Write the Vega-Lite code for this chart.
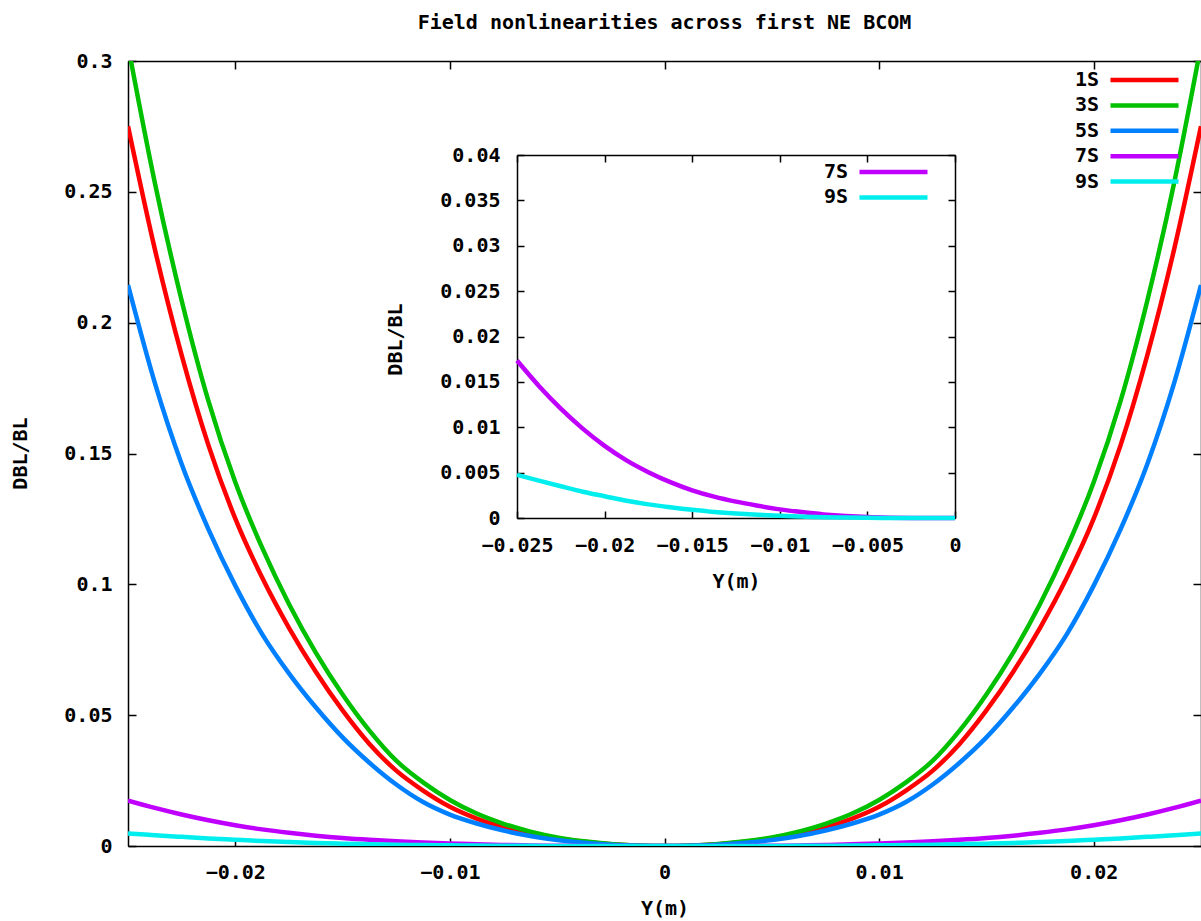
{
"$schema": "https://vega.github.io/schema/vega-lite/v6.json",
"width": 1073, "height": 785,
"autosize": {"type": "none"},
"padding": {"left": 128, "top": 61, "right": 0, "bottom": 75},
"background": "white",
"title": {"text": "Field nonlinearities across first NE BCOM", "font": "DejaVu Sans Mono", "fontSize": 20, "fontWeight": "bold", "color": "black", "frame": "group", "anchor": "middle", "offset": 12},
"config": {
 "view": {"stroke": null},
 "axis": {"labelFont": "DejaVu Sans Mono", "labelFontSize": 20, "labelFontWeight": "bold", "labelColor": "black", "titleFont": "DejaVu Sans Mono", "titleFontSize": 20, "titleFontWeight": "bold", "titleColor": "black", "domainColor": "black", "domainWidth": 1.5, "tickColor": "black", "tickWidth": 1.5, "grid": false, "labelFlush": false, "labelOverlap": false},
 "legend": {"title": null, "symbolType": "M-4,0H4", "symbolSize": 289, "symbolStrokeWidth": 4.5, "labelAlign": "right", "labelOffset": -56.5, "rowPadding": 4.4, "labelFont": "DejaVu Sans Mono", "labelFontSize": 20, "labelFontWeight": "bold", "labelColor": "black", "padding": 0}
},
"data": {"values": [
{"pos":-0.025,"series":"1S","dbl":0.2751},{"pos":-0.02375,"series":"1S","dbl":0.2281},{"pos":-0.0225,"series":"1S","dbl":0.1876},{"pos":-0.02125,"series":"1S","dbl":0.1531},{"pos":-0.02,"series":"1S","dbl":0.1251},{"pos":-0.01875,"series":"1S","dbl":0.1026},{"pos":-0.0175,"series":"1S","dbl":0.0834},{"pos":-0.01625,"series":"1S","dbl":0.0666},{"pos":-0.015,"series":"1S","dbl":0.0518},{"pos":-0.01375,"series":"1S","dbl":0.039},{"pos":-0.0125,"series":"1S","dbl":0.0288},{"pos":-0.01125,"series":"1S","dbl":0.0212},{"pos":-0.01,"series":"1S","dbl":0.015},{"pos":-0.00875,"series":"1S","dbl":0.0105},{"pos":-0.0075,"series":"1S","dbl":0.0072},{"pos":-0.00625,"series":"1S","dbl":0.0048},{"pos":-0.005,"series":"1S","dbl":0.003},{"pos":-0.00375,"series":"1S","dbl":0.0016},{"pos":-0.0025,"series":"1S","dbl":0.0007},{"pos":-0.00125,"series":"1S","dbl":0.0002},{"pos":0,"series":"1S","dbl":0},{"pos":0.00125,"series":"1S","dbl":0.0002},{"pos":0.0025,"series":"1S","dbl":0.0007},{"pos":0.00375,"series":"1S","dbl":0.0016},{"pos":0.005,"series":"1S","dbl":0.003},{"pos":0.00625,"series":"1S","dbl":0.0048},{"pos":0.0075,"series":"1S","dbl":0.0072},{"pos":0.00875,"series":"1S","dbl":0.0105},{"pos":0.01,"series":"1S","dbl":0.015},{"pos":0.01125,"series":"1S","dbl":0.0212},{"pos":0.0125,"series":"1S","dbl":0.0288},{"pos":0.01375,"series":"1S","dbl":0.039},{"pos":0.015,"series":"1S","dbl":0.0518},{"pos":0.01625,"series":"1S","dbl":0.0666},{"pos":0.0175,"series":"1S","dbl":0.0834},{"pos":0.01875,"series":"1S","dbl":0.1026},{"pos":0.02,"series":"1S","dbl":0.1251},{"pos":0.02125,"series":"1S","dbl":0.1531},{"pos":0.0225,"series":"1S","dbl":0.1876},{"pos":0.02375,"series":"1S","dbl":0.2281},{"pos":0.025,"series":"1S","dbl":0.2751},
{"pos":-0.025,"series":"3S","dbl":0.306},{"pos":-0.02375,"series":"3S","dbl":0.2535},{"pos":-0.0225,"series":"3S","dbl":0.2085},{"pos":-0.02125,"series":"3S","dbl":0.17},{"pos":-0.02,"series":"3S","dbl":0.139},{"pos":-0.01875,"series":"3S","dbl":0.114},{"pos":-0.0175,"series":"3S","dbl":0.0925},{"pos":-0.01625,"series":"3S","dbl":0.0739},{"pos":-0.015,"series":"3S","dbl":0.0579},{"pos":-0.01375,"series":"3S","dbl":0.0441},{"pos":-0.0125,"series":"3S","dbl":0.0326},{"pos":-0.01125,"series":"3S","dbl":0.0243},{"pos":-0.01,"series":"3S","dbl":0.0176},{"pos":-0.00875,"series":"3S","dbl":0.0124},{"pos":-0.0075,"series":"3S","dbl":0.0085},{"pos":-0.00625,"series":"3S","dbl":0.0055},{"pos":-0.005,"series":"3S","dbl":0.0033},{"pos":-0.00375,"series":"3S","dbl":0.0018},{"pos":-0.0025,"series":"3S","dbl":0.00075},{"pos":-0.00125,"series":"3S","dbl":0.0002},{"pos":0,"series":"3S","dbl":0},{"pos":0.00125,"series":"3S","dbl":0.0002},{"pos":0.0025,"series":"3S","dbl":0.00075},{"pos":0.00375,"series":"3S","dbl":0.0018},{"pos":0.005,"series":"3S","dbl":0.0033},{"pos":0.00625,"series":"3S","dbl":0.0055},{"pos":0.0075,"series":"3S","dbl":0.0085},{"pos":0.00875,"series":"3S","dbl":0.0124},{"pos":0.01,"series":"3S","dbl":0.0176},{"pos":0.01125,"series":"3S","dbl":0.0243},{"pos":0.0125,"series":"3S","dbl":0.0326},{"pos":0.01375,"series":"3S","dbl":0.0441},{"pos":0.015,"series":"3S","dbl":0.0579},{"pos":0.01625,"series":"3S","dbl":0.0739},{"pos":0.0175,"series":"3S","dbl":0.0925},{"pos":0.01875,"series":"3S","dbl":0.114},{"pos":0.02,"series":"3S","dbl":0.139},{"pos":0.02125,"series":"3S","dbl":0.17},{"pos":0.0225,"series":"3S","dbl":0.2085},{"pos":0.02375,"series":"3S","dbl":0.2535},{"pos":0.025,"series":"3S","dbl":0.306},
{"pos":-0.025,"series":"5S","dbl":0.2144},{"pos":-0.02375,"series":"5S","dbl":0.177},{"pos":-0.0225,"series":"5S","dbl":0.146},{"pos":-0.02125,"series":"5S","dbl":0.121},{"pos":-0.02,"series":"5S","dbl":0.0995},{"pos":-0.01875,"series":"5S","dbl":0.081},{"pos":-0.0175,"series":"5S","dbl":0.066},{"pos":-0.01625,"series":"5S","dbl":0.053},{"pos":-0.015,"series":"5S","dbl":0.0415},{"pos":-0.01375,"series":"5S","dbl":0.0318},{"pos":-0.0125,"series":"5S","dbl":0.0235},{"pos":-0.01125,"series":"5S","dbl":0.0168},{"pos":-0.01,"series":"5S","dbl":0.012},{"pos":-0.00875,"series":"5S","dbl":0.0086},{"pos":-0.0075,"series":"5S","dbl":0.0059},{"pos":-0.00625,"series":"5S","dbl":0.0038},{"pos":-0.005,"series":"5S","dbl":0.0023},{"pos":-0.00375,"series":"5S","dbl":0.0012},{"pos":-0.0025,"series":"5S","dbl":0.0005},{"pos":-0.00125,"series":"5S","dbl":0.00013},{"pos":0,"series":"5S","dbl":0},{"pos":0.00125,"series":"5S","dbl":0.00013},{"pos":0.0025,"series":"5S","dbl":0.0005},{"pos":0.00375,"series":"5S","dbl":0.0012},{"pos":0.005,"series":"5S","dbl":0.0023},{"pos":0.00625,"series":"5S","dbl":0.0038},{"pos":0.0075,"series":"5S","dbl":0.0059},{"pos":0.00875,"series":"5S","dbl":0.0086},{"pos":0.01,"series":"5S","dbl":0.012},{"pos":0.01125,"series":"5S","dbl":0.0168},{"pos":0.0125,"series":"5S","dbl":0.0235},{"pos":0.01375,"series":"5S","dbl":0.0318},{"pos":0.015,"series":"5S","dbl":0.0415},{"pos":0.01625,"series":"5S","dbl":0.053},{"pos":0.0175,"series":"5S","dbl":0.066},{"pos":0.01875,"series":"5S","dbl":0.081},{"pos":0.02,"series":"5S","dbl":0.0995},{"pos":0.02125,"series":"5S","dbl":0.121},{"pos":0.0225,"series":"5S","dbl":0.146},{"pos":0.02375,"series":"5S","dbl":0.177},{"pos":0.025,"series":"5S","dbl":0.2144},
{"pos":-0.025,"series":"7S","dbl":0.01735},{"pos":-0.02375,"series":"7S","dbl":0.01455},{"pos":-0.0225,"series":"7S","dbl":0.01205},{"pos":-0.02125,"series":"7S","dbl":0.00985},{"pos":-0.02,"series":"7S","dbl":0.00795},{"pos":-0.01875,"series":"7S","dbl":0.00635},{"pos":-0.0175,"series":"7S","dbl":0.00505},{"pos":-0.01625,"series":"7S","dbl":0.00395},{"pos":-0.015,"series":"7S","dbl":0.00305},{"pos":-0.01375,"series":"7S","dbl":0.00235},{"pos":-0.0125,"series":"7S","dbl":0.0018},{"pos":-0.01125,"series":"7S","dbl":0.00135},{"pos":-0.01,"series":"7S","dbl":0.00095},{"pos":-0.00875,"series":"7S","dbl":0.00065},{"pos":-0.0075,"series":"7S","dbl":0.0004},{"pos":-0.00625,"series":"7S","dbl":0.00022},{"pos":-0.005,"series":"7S","dbl":0.0001},{"pos":-0.00375,"series":"7S","dbl":0.00004},{"pos":-0.0025,"series":"7S","dbl":0.00001},{"pos":-0.00125,"series":"7S","dbl":0},{"pos":0,"series":"7S","dbl":0},{"pos":0.00125,"series":"7S","dbl":0},{"pos":0.0025,"series":"7S","dbl":0.00001},{"pos":0.00375,"series":"7S","dbl":0.00004},{"pos":0.005,"series":"7S","dbl":0.0001},{"pos":0.00625,"series":"7S","dbl":0.00022},{"pos":0.0075,"series":"7S","dbl":0.0004},{"pos":0.00875,"series":"7S","dbl":0.00065},{"pos":0.01,"series":"7S","dbl":0.00095},{"pos":0.01125,"series":"7S","dbl":0.00135},{"pos":0.0125,"series":"7S","dbl":0.0018},{"pos":0.01375,"series":"7S","dbl":0.00235},{"pos":0.015,"series":"7S","dbl":0.00305},{"pos":0.01625,"series":"7S","dbl":0.00395},{"pos":0.0175,"series":"7S","dbl":0.00505},{"pos":0.01875,"series":"7S","dbl":0.00635},{"pos":0.02,"series":"7S","dbl":0.00795},{"pos":0.02125,"series":"7S","dbl":0.00985},{"pos":0.0225,"series":"7S","dbl":0.01205},{"pos":0.02375,"series":"7S","dbl":0.01455},{"pos":0.025,"series":"7S","dbl":0.01735},
{"pos":-0.025,"series":"9S","dbl":0.00475},{"pos":-0.02375,"series":"9S","dbl":0.00412},{"pos":-0.0225,"series":"9S","dbl":0.0035},{"pos":-0.02125,"series":"9S","dbl":0.0029},{"pos":-0.02,"series":"9S","dbl":0.0024},{"pos":-0.01875,"series":"9S","dbl":0.0019},{"pos":-0.0175,"series":"9S","dbl":0.0015},{"pos":-0.01625,"series":"9S","dbl":0.00118},{"pos":-0.015,"series":"9S","dbl":0.0009},{"pos":-0.01375,"series":"9S","dbl":0.00067},{"pos":-0.0125,"series":"9S","dbl":0.00049},{"pos":-0.01125,"series":"9S","dbl":0.00035},{"pos":-0.01,"series":"9S","dbl":0.00024},{"pos":-0.00875,"series":"9S","dbl":0.00016},{"pos":-0.0075,"series":"9S","dbl":0.00009},{"pos":-0.00625,"series":"9S","dbl":0.00005},{"pos":-0.005,"series":"9S","dbl":0.00002},{"pos":-0.00375,"series":"9S","dbl":0.00001},{"pos":-0.0025,"series":"9S","dbl":0},{"pos":-0.00125,"series":"9S","dbl":0},{"pos":0,"series":"9S","dbl":0},{"pos":0.00125,"series":"9S","dbl":0},{"pos":0.0025,"series":"9S","dbl":0},{"pos":0.00375,"series":"9S","dbl":0.00001},{"pos":0.005,"series":"9S","dbl":0.00002},{"pos":0.00625,"series":"9S","dbl":0.00005},{"pos":0.0075,"series":"9S","dbl":0.00009},{"pos":0.00875,"series":"9S","dbl":0.00016},{"pos":0.01,"series":"9S","dbl":0.00024},{"pos":0.01125,"series":"9S","dbl":0.00035},{"pos":0.0125,"series":"9S","dbl":0.00049},{"pos":0.01375,"series":"9S","dbl":0.00067},{"pos":0.015,"series":"9S","dbl":0.0009},{"pos":0.01625,"series":"9S","dbl":0.00118},{"pos":0.0175,"series":"9S","dbl":0.0015},{"pos":0.01875,"series":"9S","dbl":0.0019},{"pos":0.02,"series":"9S","dbl":0.0024},{"pos":0.02125,"series":"9S","dbl":0.0029},{"pos":0.0225,"series":"9S","dbl":0.0035},{"pos":0.02375,"series":"9S","dbl":0.00412},{"pos":0.025,"series":"9S","dbl":0.00475}
]},
"layer": [
 {
  "mark": {"type": "line", "strokeWidth": 4.5, "clip": true, "interpolate": "monotone"},
  "encoding": {
   "x": {"field": "pos", "type": "quantitative", "scale": {"domain": [-0.025, 0.025], "nice": false, "zero": false}, "axis": {"orient": "bottom", "values": [-0.02, -0.01, 0, 0.01, 0.02], "format": "~g", "tickSize": -8, "labelPadding": 34, "labelBaseline": "middle", "title": "Y(m)", "titleY": 62, "titleBaseline": "middle"}},
   "y": {"field": "dbl", "type": "quantitative", "scale": {"domain": [0, 0.3], "nice": false}, "axis": {"orient": "left", "values": [0, 0.05, 0.1, 0.15, 0.2, 0.25, 0.3], "format": "~g", "tickSize": -8, "labelPadding": 24, "title": "DBL/BL", "titleX": -108, "titleY": 392, "titleBaseline": "middle", "titleAngle": -90}},
   "color": {"field": "series", "type": "nominal", "scale": {"domain": ["1S", "3S", "5S", "7S", "9S"], "range": ["#ff0000", "#00c000", "#0080ff", "#c000ff", "#00eeee"]}, "legend": {"orient": "none", "legendX": 1005.5, "legendY": 8}}
  }
 },
 {
  "mark": {"type": "line", "opacity": 0},
  "encoding": {
   "x": {"field": "pos", "type": "quantitative", "scale": {"domain": [-0.025, 0.025], "nice": false, "zero": false}, "axis": {"orient": "top", "values": [-0.02, -0.01, 0, 0.01, 0.02], "labels": false, "tickSize": -8, "title": null}},
   "y": {"field": "dbl", "type": "quantitative", "scale": {"domain": [0, 0.3], "nice": false}, "axis": {"orient": "right", "values": [0, 0.05, 0.1, 0.15, 0.2, 0.25, 0.3], "labels": false, "tickSize": -8, "title": null}}
  }
 },
 {
  "transform": [{"filter": {"field": "series", "oneOf": ["7S", "9S"]}}, {"filter": "datum.pos <= 0"}],
  "mark": {"type": "line", "strokeWidth": 4.5, "interpolate": "monotone"},
  "encoding": {
   "x": {"field": "pos", "type": "quantitative", "scale": {"domain": [-0.025, 0], "range": [389, 827], "nice": false, "zero": false}, "axis": {"orient": "bottom", "offset": -328, "values": [-0.025, -0.02, -0.015, -0.01, -0.005, 0], "format": "~g", "tickSize": -7, "labelPadding": 34, "labelBaseline": "middle", "title": "Y(m)", "titleY": 63, "titleBaseline": "middle"}},
   "y": {"field": "dbl", "type": "quantitative", "scale": {"domain": [0, 0.04], "range": [457, 94], "nice": false}, "axis": {"orient": "left", "offset": -389, "values": [0, 0.005, 0.01, 0.015, 0.02, 0.025, 0.03, 0.035, 0.04], "format": "~g", "tickSize": -7, "labelPadding": 24, "title": "DBL/BL", "titleX": -122, "titleY": 278, "titleBaseline": "middle", "titleAngle": -90}},
   "color": {"field": "series", "type": "nominal", "scale": {"domain": ["7S", "9S"], "range": ["#c000ff", "#00eeee"]}, "legend": {"orient": "none", "legendX": 754.5, "legendY": 100}}
  }
 },
 {
  "transform": [{"filter": {"field": "series", "oneOf": ["7S", "9S"]}}, {"filter": "datum.pos <= 0"}],
  "mark": {"type": "line", "opacity": 0},
  "encoding": {
   "x": {"field": "pos", "type": "quantitative", "scale": {"domain": [-0.025, 0], "range": [389, 827], "nice": false, "zero": false}, "axis": {"orient": "top", "offset": -94, "values": [-0.025, -0.02, -0.015, -0.01, -0.005, 0], "labels": false, "tickSize": -7, "title": null}},
   "y": {"field": "dbl", "type": "quantitative", "scale": {"domain": [0, 0.04], "range": [457, 94], "nice": false}, "axis": {"orient": "right", "offset": -246, "values": [0, 0.005, 0.01, 0.015, 0.02, 0.025, 0.03, 0.035, 0.04], "labels": false, "tickSize": -7, "title": null}}
  }
 }
],
"resolve": {"scale": {"x": "independent", "y": "independent", "color": "independent"}, "axis": {"x": "independent", "y": "independent"}, "legend": {"color": "independent"}}
}
